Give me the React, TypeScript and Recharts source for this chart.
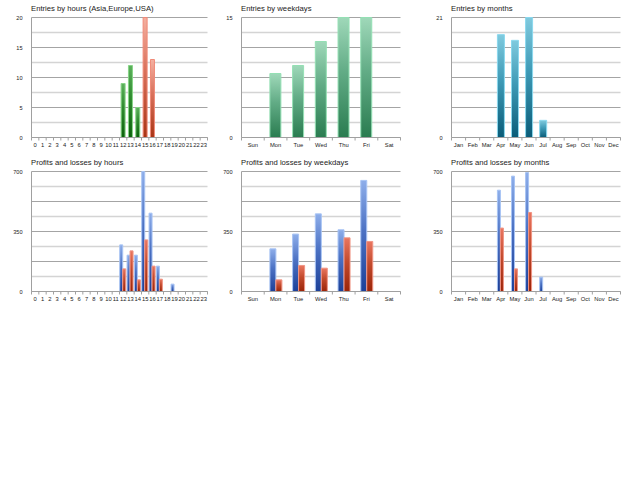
import React from 'react';
import { BarChart, Bar, XAxis, YAxis, CartesianGrid } from 'recharts';

// ---------- data ----------
const hourLabels = ['0','1','2','3','4','5','6','7','8','9','10','11','12','13','14','15','16','17','18','19','20','21','22','23'];
const asiaEntries = [0,0,0,0,0,0,0,0,0,0,0,0,0,0,0,0,0,0,0,0,0,0,0,0];
const europeEntries = [0,0,0,0,0,0,0,0,0,0,0,0,9,12,5,0,0,0,0,0,0,0,0,0];
const usaEntries = [0,0,0,0,0,0,0,0,0,0,0,0,0,0,0,20,13,0,0,0,0,0,0,0];
const hourProfits = [0,0,0,0,0,0,0,0,0,0,0,0,272,212,212,700,457,148,0,43,0,0,0,0];
const hourLosses = [0,0,0,0,0,0,0,0,0,0,0,0,132,237,68,301,148,72,0,0,0,0,0,0];

const weekdayLabels = ['Sun','Mon','Tue','Wed','Thu','Fri','Sat'];
const weekdayEntries = [0,8,9,12,15,15,0];
const weekdayProfits = [0,249,335,453,360,648,0];
const weekdayLosses = [0,68,152,136,313,292,0];

const monthLabels = ['Jan','Feb','Mar','Apr','May','Jun','Jul','Aug','Sep','Oct','Nov','Dec'];
const monthEntries = [0,0,0,18,17,21,3,0,0,0,0,0];
const monthProfits = [0,0,0,591,673,694,84,0,0,0,0,0];
const monthLosses = [0,0,0,370,132,461,0,0,0,0,0,0];

const hourEntryTicks = [0,2.5,5,7.5,10,12.5,15,17.5,20];
const hourEntryLabels = [0,5,10,15,20];
const weekdayEntryTicks = [0,1.875,3.75,5.625,7.5,9.375,11.25,13.125,15];
const weekdayEntryLabels = [0,15];
const monthEntryTicks = [0,2.625,5.25,7.875,10.5,13.125,15.75,18.375,21];
const monthEntryLabels = [0,21];
const plTicks = [0,87.5,175,262.5,350,437.5,525,612.5,700];
const plLabels = [0,350,700];

// ---------- tables ----------
const hourEntryData = hourLabels.map((l, i) => ({ label: l, asia: asiaEntries[i], europe: europeEntries[i], usa: usaEntries[i] }));
const hourPLData = hourLabels.map((l, i) => ({ label: l, profit: hourProfits[i], loss: hourLosses[i] }));
const weekdayEntryData = weekdayLabels.map((l, i) => ({ label: l, entries: weekdayEntries[i] }));
const weekdayPLData = weekdayLabels.map((l, i) => ({ label: l, profit: weekdayProfits[i], loss: weekdayLosses[i] }));
const monthEntryData = monthLabels.map((l, i) => ({ label: l, entries: monthEntries[i] }));
const monthPLData = monthLabels.map((l, i) => ({ label: l, profit: monthProfits[i], loss: monthLosses[i] }));

const FONT = '"Liberation Sans", Arial, sans-serif';
const AXIS = '#a0a0a0';
const Y_AXIS_W = 30;
const M_LEFT = 1.5;

const gridLine = (p: any) => (
  <line
    key={p.key}
    x1={p.x1}
    x2={p.x2}
    y1={p.y1}
    y2={p.y2}
    stroke={p.index % 2 === 0 ? '#a4a4a4' : '#d4d4d4'}
    strokeWidth={p.index % 2 === 0 ? 1 : 1.6}
  />
);

const makeYTick = (labels: number[]) => (p: any) => {
  const v = p.payload.value;
  if (!labels.includes(v)) return <g />;
  return (
    <text x={p.x} y={p.y} textAnchor="end" dominantBaseline="central" fontSize={5.6} fontFamily={FONT} fill="#222">
      {v}
    </text>
  );
};

const makeXTick = (plotWidth: number) => (p: any) => {
  const n = p.visibleTicksCount || 1;
  const band = plotWidth / n;
  const last = p.index === n - 1;
  return (
    <g>
      <line x1={p.x - band / 2} x2={p.x - band / 2} y1={p.y} y2={p.y + 3} stroke={AXIS} />
      {last && <line x1={p.x + band / 2} x2={p.x + band / 2} y1={p.y} y2={p.y + 3} stroke={AXIS} />}
      <text x={p.x} y={p.y + 7} textAnchor="middle" dominantBaseline="central" fontSize={5.8} fontFamily={FONT} fill="#222">
        {p.payload.value}
      </text>
    </g>
  );
};

const Grad = ({ id, top, mid, bottom }: { id: string; top: string; mid: string; bottom: string }) => (
  <linearGradient id={id} x1="0" y1="0" x2="0" y2="1">
    <stop offset="0%" stopColor={top} />
    <stop offset="45%" stopColor={mid} />
    <stop offset="100%" stopColor={bottom} />
  </linearGradient>
);

type PanelProps = {
  left: number;
  top: number;
  width: number;
  height: number;
  mTop: number;
  mRight: number;
  xHeight: number;
  title: string;
  data: any[];
  yMax: number;
  ticks: number[];
  labels: number[];
  gap: string;
  children: React.ReactNode;
};

const Panel = (pp: PanelProps) => {
  const plotWidth = pp.width - pp.mRight - M_LEFT - Y_AXIS_W;
  return (
    <>
      <div
        style={{
          position: 'absolute',
          left: pp.left + 31,
          top: pp.top + pp.mTop - 12.3,
          fontFamily: FONT,
          fontSize: 7.7,
          lineHeight: '8px',
          color: '#222',
          whiteSpace: 'nowrap',
        }}
      >
        {pp.title}
      </div>
      <div style={{ position: 'absolute', left: pp.left, top: pp.top }}>
        <BarChart
          width={pp.width}
          height={pp.height}
          data={pp.data}
          margin={{ top: pp.mTop, right: pp.mRight, bottom: 0, left: M_LEFT }}
          barCategoryGap={pp.gap}
          barGap={0}
        >
          {pp.children}
          <CartesianGrid vertical={false} horizontal={gridLine} />
          <XAxis
            dataKey="label"
            interval={0}
            height={pp.xHeight}
            tickLine={false}
            tickSize={0}
            tickMargin={0}
            axisLine={{ stroke: AXIS }}
            tick={makeXTick(plotWidth)}
          />
          <YAxis
            type="number"
            width={Y_AXIS_W}
            domain={[0, pp.yMax]}
            ticks={pp.ticks}
            interval={0}
            tickLine={false}
            tickSize={0}
            tickMargin={9}
            axisLine={{ stroke: AXIS }}
            tick={makeYTick(pp.labels)}
          />
        </BarChart>
      </div>
    </>
  );
};

export default function App() {
  return (
    <div style={{ position: 'absolute', left: 0, top: 0, width: 640, height: 480, background: '#fff', overflow: 'hidden' }}>
      <Panel left={0} top={0} width={215} height={150} mTop={17.5} mRight={7.5} xHeight={12.5}
        title="Entries by hours (Asia,Europe,USA)" data={hourEntryData} yMax={20}
        ticks={hourEntryTicks} labels={hourEntryLabels} gap="22%">
        <defs>
          <Grad id="g1asia" top="#f2d27a" mid="#d4aa30" bottom="#b08a10" />
          <Grad id="g1eu" top="#5cb05c" mid="#2e8a2e" bottom="#0c620c" />
          <Grad id="g1us" top="#f4b0a0" mid="#d8705a" bottom="#a83414" />
        </defs>
        <Bar dataKey="asia" stackId="a" fill="url(#g1asia)" stroke="#f2d890" isAnimationActive={false} />
        <Bar dataKey="europe" stackId="a" fill="url(#g1eu)" stroke="#86d486" isAnimationActive={false} />
        <Bar dataKey="usa" stackId="a" fill="url(#g1us)" stroke="#f08a78" isAnimationActive={false} />
      </Panel>

      <Panel left={210} top={0} width={215} height={150} mTop={17.5} mRight={24.5} xHeight={12.5}
        title="Entries by weekdays" data={weekdayEntryData} yMax={15}
        ticks={weekdayEntryTicks} labels={weekdayEntryLabels} gap="25%">
        <defs>
          <Grad id="g2" top="#9fd8b9" mid="#62ac86" bottom="#2a7c50" />
        </defs>
        <Bar dataKey="entries" fill="url(#g2)" stroke="#94e0b4" isAnimationActive={false} />
      </Panel>

      <Panel left={420} top={0} width={220} height={150} mTop={17.5} mRight={19.5} xHeight={12.5}
        title="Entries by months" data={monthEntryData} yMax={21}
        ticks={monthEntryTicks} labels={monthEntryLabels} gap="26%">
        <defs>
          <Grad id="g3" top="#80cade" mid="#3e9ab6" bottom="#0a5c78" />
        </defs>
        <Bar dataKey="entries" fill="url(#g3)" stroke="#8ad8ee" isAnimationActive={false} />
      </Panel>

      <Panel left={0} top={150} width={215} height={155} mTop={21.5} mRight={7.5} xHeight={13.5}
        title="Profits and losses by hours" data={hourPLData} yMax={700}
        ticks={plTicks} labels={plLabels} gap="3%">
        <defs>
          <Grad id="g4p" top="#8eaeea" mid="#4c72c4" bottom="#1c4098" />
          <Grad id="g4l" top="#ea7660" mid="#c24a2c" bottom="#9a2408" />
        </defs>
        <Bar dataKey="profit" fill="url(#g4p)" stroke="#a8c4f4" isAnimationActive={false} />
        <Bar dataKey="loss" fill="url(#g4l)" stroke="#f09484" isAnimationActive={false} />
      </Panel>

      <Panel left={210} top={150} width={215} height={155} mTop={21.5} mRight={24.5} xHeight={13.5}
        title="Profits and losses by weekdays" data={weekdayPLData} yMax={700}
        ticks={plTicks} labels={plLabels} gap="25%">
        <defs>
          <Grad id="g5p" top="#8eaeea" mid="#4c72c4" bottom="#1c4098" />
          <Grad id="g5l" top="#ea7660" mid="#c24a2c" bottom="#9a2408" />
        </defs>
        <Bar dataKey="profit" fill="url(#g5p)" stroke="#a8c4f4" isAnimationActive={false} />
        <Bar dataKey="loss" fill="url(#g5l)" stroke="#f09484" isAnimationActive={false} />
      </Panel>

      <Panel left={420} top={150} width={220} height={155} mTop={21.5} mRight={19.5} xHeight={13.5}
        title="Profits and losses by months" data={monthPLData} yMax={700}
        ticks={plTicks} labels={plLabels} gap="26%">
        <defs>
          <Grad id="g6p" top="#8eaeea" mid="#4c72c4" bottom="#1c4098" />
          <Grad id="g6l" top="#ea7660" mid="#c24a2c" bottom="#9a2408" />
        </defs>
        <Bar dataKey="profit" fill="url(#g6p)" stroke="#a8c4f4" isAnimationActive={false} />
        <Bar dataKey="loss" fill="url(#g6l)" stroke="#f09484" isAnimationActive={false} />
      </Panel>
    </div>
  );
}
